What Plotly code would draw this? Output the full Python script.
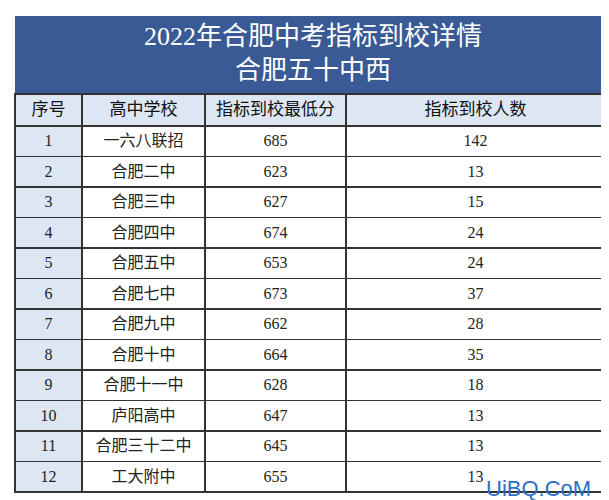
import plotly.graph_objects as go

# 数据
seq = [str(i) for i in range(1, 13)]
schools = ["一六八联招", "合肥二中", "合肥三中", "合肥四中", "合肥五中", "合肥七中",
           "合肥九中", "合肥十中", "合肥十一中", "庐阳高中", "合肥三十二中", "工大附中"]
min_scores = [685, 623, 627, 674, 653, 673, 662, 664, 628, 647, 645, 655]
counts = [142, 13, 15, 24, 24, 37, 28, 35, 18, 13, 13, 13]
headers = ["序号", "高中学校", "指标到校最低分", "指标到校人数"]

font_fam = "Liberation Serif, Noto Sans CJK SC"
light_blue = "#dce7f3"

fig = go.Figure(go.Table(
    domain=dict(x=[7/609, 597/609], y=[0.0, 1 - 86/500]),
    columnwidth=[67, 123, 141, 259],
    header=dict(values=headers, fill_color=light_blue, line_color="#333333", line_width=1.5,
                font=dict(family=font_fam, size=17, color="#111111"), height=32, align="center"),
    cells=dict(values=[seq, schools, min_scores, counts],
               fill_color=[[light_blue]*12, ["white"]*12, ["white"]*12, ["white"]*12],
               line_color="#333333", line_width=1.5,
               font=dict(family=font_fam, size=16, color="#222222"), height=30.5, align="center"),
))

# 标题区
fig.add_shape(type="rect", xref="paper", yref="paper", x0=7/609, x1=597/609,
              y0=1 - 94/500, y1=1 - 8/500, fillcolor="#3a5a95", line_width=0, layer="below")
fig.add_annotation(text="2022年合肥中考指标到校详情<br>合肥五十中西", xref="paper", yref="paper",
                   x=0.5, y=1 - 12/500, yanchor="top", showarrow=False,
                   font=dict(family=font_fam, size=26, color="white"))
fig.add_annotation(text="UiBQ.CoM", xref="paper", yref="paper", x=0.96, y=0.01,
                   xanchor="right", yanchor="bottom", showarrow=False,
                   font=dict(family="Liberation Sans", size=22, color="#2a6fc9"))

fig.update_layout(width=609, height=500, margin=dict(l=0, r=0, t=0, b=0),
                  paper_bgcolor="white")
fig.write_html("out.html")
